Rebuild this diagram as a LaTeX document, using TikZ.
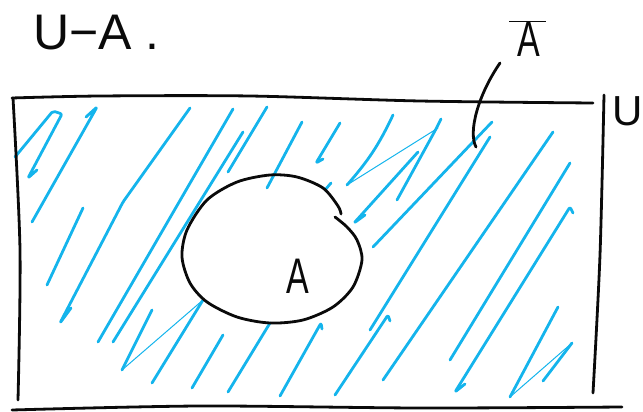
\documentclass[tikz,border=0pt]{standalone}
\usepackage{fontspec}
\setmainfont{Liberation Sans}
\usetikzlibrary{calc}
\definecolor{SketchInk}{HTML}{0A0A0A}
\definecolor{SketchBlue}{HTML}{14B4EC}
\tikzset{
  venn/line/.style={
    draw=SketchInk, line width=2.8pt, line cap=round, line join=round
  },
  venn/hatch/.style={
    draw=SketchBlue, line width=2.8pt, line cap=round, line join=round,
    rounded corners=2pt
  },
  venn/thin/.style={venn/hatch, line width=1pt},
  venn/label/.style={
    font=\fontsize{50}{60}\selectfont, text=SketchInk,
    inner sep=0pt, anchor=base west
  }
}
\newcommand{\narrowA}{\scalebox{0.68}[1]{A}}
\begin{document}
\begin{tikzpicture}[x=1pt,y=-1pt]
  \useasboundingbox (0,0) rectangle (643,412);
  % hatching of the complement
  \foreach \xa/\ya/\xb/\yb in {47/285/83/208, 98/342/233/109,
      113/342/243/132, 228/172/267/107, 267/188/302/122, 325/190/331/183,
      373/247/492/122, 370/330/490/137, 383/380/553/132, 450/360/570/163,
      228/392/270/323, 192/388/223/335}
    \draw[venn/hatch] (\xa,\ya) -- (\xb,\yb);
  \draw[venn/hatch] (15,157) -- (53,111) -- (62,114) -- (28,178) -- (37,170);
  \draw[venn/hatch] (32,222) -- (97,107) -- (86,117);
  \draw[venn/hatch] (71,308) -- (60,323) -- (123,202) -- (190,108);
  \draw[venn/hatch] (323,159) -- (316,163) -- (340,123);
  \draw[venn/hatch] (393,115) to[bend left=8] (347,185);
  \draw[venn/thin] (347,185) -- (438,128);
  \draw[venn/hatch] (441,119) -- (436,129) -- (397,200);
  \draw[venn/hatch] (365,215) -- (354,223) -- (418,152);
  \draw[venn/hatch] (465,384) -- (455,392) -- (570,207) -- (573,213);
  \draw[venn/hatch] (558,307) -- (510,397);
  \draw[venn/thin] (510,397) -- (572,343);
  \draw[venn/hatch] (572,343) -- (543,381);
  \draw[venn/hatch] (335,395) -- (388,315) -- (390,321);
  \draw[venn/hatch] (280,396) -- (321,323) -- (322,329);
  \draw[venn/hatch] (152,310) -- (122,370);
  \draw[venn/thin] (122,370) -- (203,300);
  \draw[venn/hatch] (203,300) -- (152,383);
  % universe
  \draw[venn/line] plot[smooth] coordinates {(12,98) (100,96) (250,96) (420,101) (593,103)};
  \draw[venn/line] plot[smooth] coordinates {(13,98) (20,250) (18,400)};
  \draw[venn/line] plot[smooth] coordinates {(12,410) (200,406) (420,408) (622,407)};
  \draw[venn/line] plot[smooth] coordinates {(604,95) (600,255) (593,393)};
  % set A
  \draw[venn/line] plot[smooth] coordinates {(335,217) (347,227) (357,240)
    (362,260) (353,287) (333,307) (303,320) (270,323) (237,317) (207,302)
    (190,283) (182,257) (187,230) (207,200) (237,182) (270,175) (297,177)
    (323,188) (338,206) (341,214)};
  % labels
  \node[venn/label] (title) at (33,50) {U−A .};
  \node[venn/label,font=\fontsize{42}{50}\selectfont] (univ) at (612,125) {U};
  \node[venn/label] (abar) at (509,57)
    {$\overline{\hbox{\kern8pt\narrowA\kern6pt}}$};
  \node[venn/label] (ain) at (286,293) {\narrowA};
  \coordinate (lead) at (500,63);
  \coordinate (leadend) at (476,147);
  \draw[venn/line] (lead) .. controls (478,95) and (468,132) .. (leadend);
\end{tikzpicture}
\end{document}
